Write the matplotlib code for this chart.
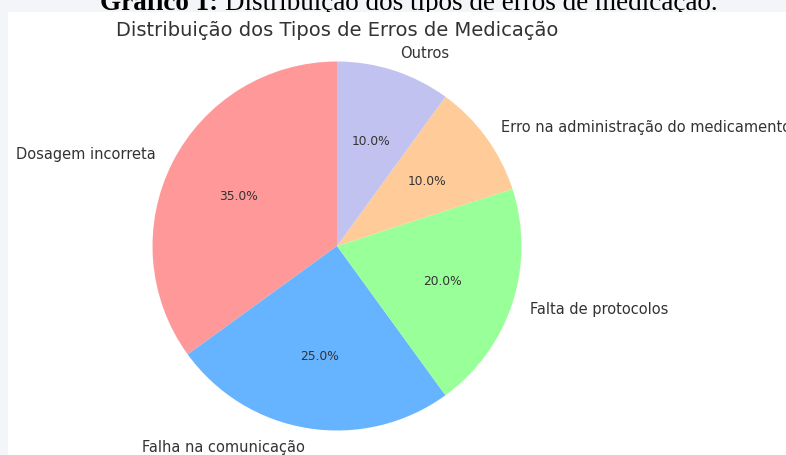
import matplotlib
matplotlib.use('Agg')
import matplotlib.pyplot as plt
from matplotlib.patches import Rectangle

labels = ['Dosagem incorreta', 'Falha na comunicação', 'Falta de protocolos',
          'Erro na administração do medicamento', 'Outros']
sizes = [35, 25, 20, 10, 10]
colors = ['#ff9999', '#66b3ff', '#99ff99', '#ffcc99', '#c2c2f0']

W, H = 786, 456
fig = plt.figure(figsize=(W/100, H/100), dpi=100, facecolor='#f4f5f9')

# document caption, cut at the top and hidden under the chart image
fig.text(218/W, 1 - 10/H, 'Gráfico 1:', family='Liberation Serif', weight='bold',
         fontsize=19.5, ha='right', va='baseline', color='black', zorder=0.5)
fig.text(225/W, 1 - 10/H, 'Distribuição dos tipos de erros de medicação.',
         family='Liberation Serif', fontsize=19.5, ha='left', va='baseline',
         color='black', zorder=0.5)

# white panel of the embedded chart image
fig.patches.append(Rectangle((8/W, 0), 1, (H-13)/H, transform=fig.transFigure,
                             facecolor='white', edgecolor='none', zorder=1))

cx, cy, r = 337, 247, 184.5
ax = fig.add_axes([(cx - r)/W, (H - cy - r)/H, 2*r/W, 2*r/H])
ax.set_zorder(2)
wedges, texts, autotexts = ax.pie(sizes, labels=labels, colors=colors, autopct='%1.1f%%',
                                  startangle=90, textprops={'color': '#333333'})
for t in texts:
    t.set_fontsize(10.5)
for t in autotexts:
    t.set_fontsize(8.8)
ax.set_xlim(-1, 1)
ax.set_ylim(-1, 1)
ax.set_aspect('auto')
fig.text(cx/W, 1 - 31/H, 'Distribuição dos Tipos de Erros de Medicação',
         fontsize=14, color='#333333', ha='center', va='center', zorder=3)

fig.savefig('out.png', dpi=100, facecolor=fig.get_facecolor())
